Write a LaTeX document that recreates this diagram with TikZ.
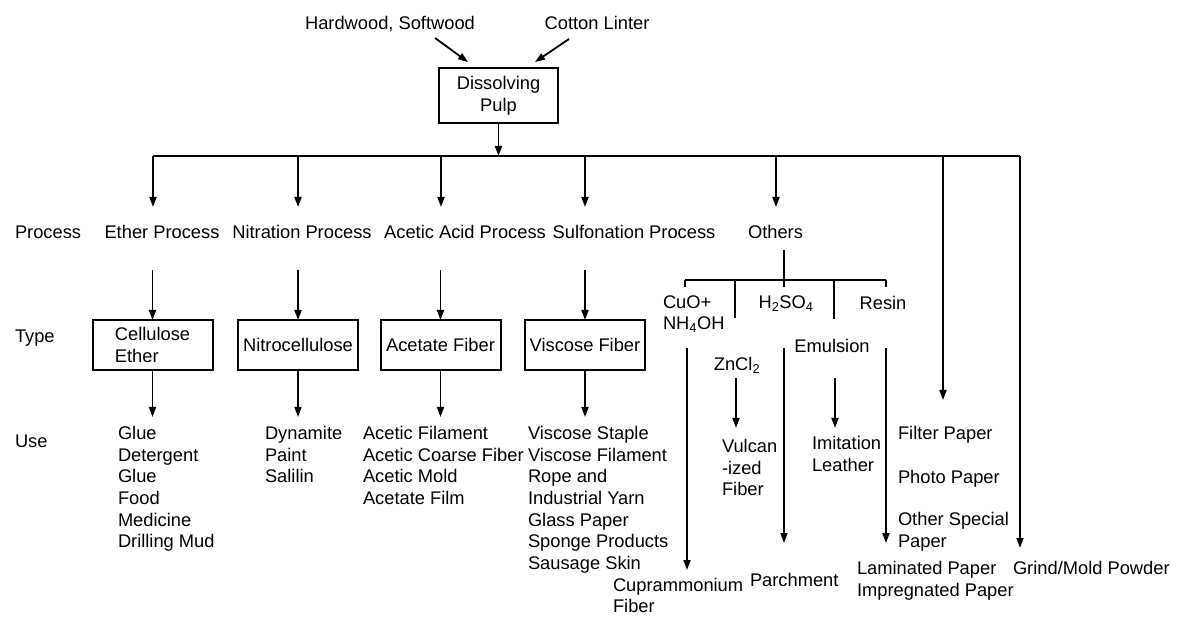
\documentclass[tikz,border=0pt]{standalone}
\usepackage{fontspec}
\setmainfont{Liberation Sans}
\usetikzlibrary{arrows.meta}
\begin{document}
\begin{tikzpicture}[x=1pt,y=-1pt,
  base/.style={font=\fontsize{18.3}{21.6}\selectfont, inner sep=0pt, outer sep=0pt},
  lbl/.style={base, text height=13pt, text depth=0pt},
  lst/.style={base, align=left, anchor=north west},
  tbox/.style={base, draw, line width=2pt, minimum width=120pt, minimum height=50pt},
  ln/.style={line width=1.8pt},
  arr/.style={ln, -{Triangle[length=10pt,width=7pt]}}]
\useasboundingbox (0,0) rectangle (1181,617);
\fill[white] (0,0) rectangle (1181,617);
% top
\node[lbl] (hw) at (390,23) {Hardwood, Softwood};
\node[lbl] (cl) at (597,23) {Cotton Linter};
\node[tbox, align=center, minimum width=119pt, minimum height=55pt] (dp) at (498.5,95.5) {Dissolving\\Pulp};
\draw[arr] ([shift={(45,8.5)}]hw.south) -- ([shift={(-30.5,-6)}]dp.north);
\draw[arr] ([shift={(-28,9.5)}]cl.south) -- ([shift={(36.5,-6)}]dp.north);
% bus
\coordinate (bus) at (498.5,156);
\coordinate (bL) at (153,156);
\coordinate (b2) at (298,156);
\coordinate (b3) at (441,156);
\coordinate (b4) at (585,156);
\coordinate (b5) at (776,156);
\coordinate (b6) at (943,156);
\coordinate (bR) at (1020,156);
\draw[ln] (bL) -- (bR);
\draw[arr] (dp.south) -- (bus);
% process row
\node[lbl, anchor=west] (plab) at (15,232) {Process};
\node[lbl] (ep) at (162,232) {Ether Process};
\node[lbl] (np) at (302,232) {Nitration Process};
\node[lbl] (ap) at (465,232) {Acetic Acid Process};
\node[lbl] (sp) at (634,232) {Sulfonation Process};
\node[lbl] (ot) at (775.5,232) {Others};
\draw[arr, shorten >=18.5pt] (bL) -- (bL |- ep.north);
\draw[arr, shorten >=18.5pt] (b2) -- (b2 |- np.north);
\draw[arr, shorten >=18.5pt] (b3) -- (b3 |- ap.north);
\draw[arr, shorten >=18.5pt] (b4) -- (b4 |- sp.north);
\draw[arr, shorten >=18.5pt] (b5) -- (b5 |- ot.north);
% type row
\node[lbl, anchor=west] (tlab) at (15,336) {Type};
\node[tbox, align=left] (ce) at (152.5,345) {Cellulose\\Ether};
\node[tbox] (nc) at (298,345) {Nitrocellulose};
\node[tbox] (af) at (440.5,345) {Acetate Fiber};
\node[tbox] (vf) at (585,345) {Viscose Fiber};
\draw[arr, shorten <=31.5pt] (ce.north |- ep.south) -- (ce.north);
\draw[arr, shorten <=31.5pt] (nc.north |- np.south) -- (nc.north);
\draw[arr, shorten <=31.5pt] (af.north |- ap.south) -- (af.north);
\draw[arr, shorten <=31.5pt] (vf.north |- sp.south) -- (vf.north);
% use row
\node[lbl, anchor=west] (ulab) at (15,441) {Use};
\node[lst] (ceu) at (118,426.5) {Glue\\Detergent\\Glue\\Food\\Medicine\\Drilling Mud};
\node[lst] (ncu) at (265,426.5) {Dynamite\\Paint\\Salilin};
\node[lst] (afu) at (363,426.5) {Acetic Filament\\Acetic Coarse Fiber\\Acetic Mold\\Acetate Film};
\node[lst] (vfu) at (528,426.5) {Viscose Staple\\Viscose Filament\\Rope and\\Industrial Yarn\\Glass Paper\\Sponge Products\\Sausage Skin};
\draw[arr, shorten >=9.5pt] (ce.south) -- (ce.south |- ceu.north);
\draw[arr, shorten >=9.5pt] (nc.south) -- (nc.south |- ncu.north);
\draw[arr, shorten >=9.5pt] (af.south) -- (af.south |- afu.north);
\draw[arr, shorten >=9.5pt] (vf.south) -- (vf.south |- vfu.north);
% others branch
\coordinate (oj) at (784,280);
\coordinate (oL) at (685,280);
\coordinate (oR) at (886,280);
\coordinate (o2) at (735,280);
\coordinate (o4) at (834,280);
\draw[ln, shorten <=11.5pt] (oj |- ot.south) -- ([yshift=-7pt]oj);
\draw[ln] (oL) -- (oR);
\draw[ln] (oL) -- ++(0,7);
\draw[ln] (oR) -- ++(0,7);
\draw[ln] (o2) -- ++(0,38);
\draw[ln] (o4) -- ++(0,39);
\node[lst] (cuo) at (663,295.5) {CuO+\\NH\textsubscript{4}OH};
\node[lbl] (h2) at (786,302) {H\textsubscript{2}SO\textsubscript{4}};
\node[lbl] (rs) at (883,303) {Resin};
\node[lbl] (zn) at (737,364) {ZnCl\textsubscript{2}};
\node[lbl] (em) at (832,346) {Emulsion};
\node[lst] (vul) at (722,439.5) {Vulcan\\-ized\\Fiber};
\node[lst] (imi) at (812,436.5) {Imitation\\Leather};
\node[lst, font=\fontsize{18.3}{20.5}\selectfont] (cup) at (613,578.5) {Cuprammonium\\Fiber};
\node[lst] (par) at (750,573.5) {Parchment};
\node[lst] (lam) at (857,561.5) {Laminated Paper\\Impregnated Paper};
\node[lst] (fp) at (898,426.5) {Filter Paper};
\node[lst] (pp) at (898,470.5) {Photo Paper};
\node[lst] (osp) at (898,512.5) {Other Special\\Paper};
\node[lst] (gm) at (1013,561.5) {Grind/Mold Powder};
\coordinate (cuS) at (687,348);
\coordinate (paS) at (784,348);
\coordinate (laS) at (886,348);
\draw[arr, shorten >=8.5pt] (cuS) -- (cuS |- cup.north);
\draw[arr, shorten >=30.5pt] (paS) -- (paS |- par.north);
\draw[arr, shorten >=18.5pt] (laS) -- (laS |- lam.north);
\draw[arr, shorten <=7.5pt, shorten >=11.5pt] ([xshift=-1pt]zn.south) -- ([xshift=-1pt]zn.south |- vul.north);
\draw[arr, shorten <=25.5pt, shorten >=8.5pt] ([xshift=3pt]em.south) -- ([xshift=3pt]em.south |- imi.north);
\draw[arr, shorten >=26.5pt] (b6) -- (b6 |- fp.north);
\draw[arr, shorten >=13.5pt] (bR) -- (bR |- gm.north);
\end{tikzpicture}
\end{document}
